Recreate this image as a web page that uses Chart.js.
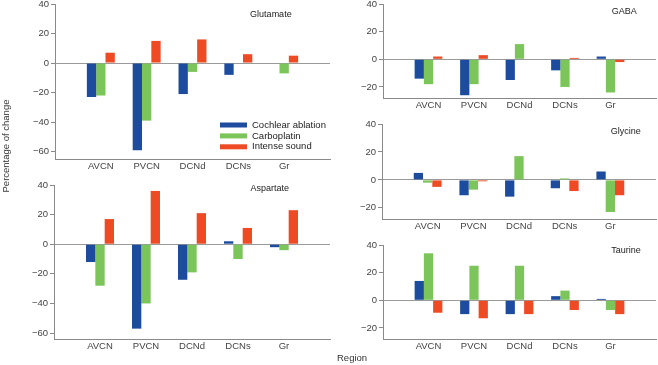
<!DOCTYPE html>
<html>
<head>
<meta charset="utf-8">
<script src="https://cdn.jsdelivr.net/npm/chart.js@4.4.1/dist/chart.umd.min.js"></script>
<style>
body { margin: 0; background: #fff; }
#wrap { position: relative; width: 658px; height: 365px; overflow: hidden; font-family: "Liberation Sans", Arial, sans-serif; }
canvas { position: absolute; }
.lbl { position: absolute; font-size: 9.5px; line-height: 12px; color: #333; white-space: nowrap; }
#ylab { left: -94px; top: 140px; width: 200px; text-align: center; transform: rotate(-90deg); }
</style>
</head>
<body>
<div id="wrap">
  <canvas id="glu" width="340" height="181" style="left:0;top:-6px"></canvas>
  <canvas id="asp" width="340" height="180" style="left:0;top:175px"></canvas>
  <canvas id="gaba" width="318" height="120" style="left:340px;top:-6px"></canvas>
  <canvas id="gly" width="318" height="121" style="left:340px;top:114px"></canvas>
  <canvas id="tau" width="318" height="120" style="left:340px;top:235px"></canvas>
  <div class="lbl" id="ylab">Percentage of change</div>
  <div class="lbl" style="left:337px;top:352px">Region</div>
</div>
<script>
const regions = ['AVCN', 'PVCN', 'DCNd', 'DCNs', 'Gr'];
const seriesNames = ['Cochlear ablation', 'Carboplatin', 'Intense sound'];
const seriesColors = ['#1d4c9e', '#7cc55a', '#ee4b24'];

const glutamateAblation = [-23, -59, -21, -8, null];
const glutamateCarbo = [-22, -39, -6, null, -7];
const glutamateSound = [7, 15, 16, 6, 5];

const aspartateAblation = [-12, -57, -24, 2, -2];
const aspartateCarbo = [-28, -40, -19, -10, -4];
const aspartateSound = [17, 36, 21, 11, 23];

const gabaAblation = [-14, -26, -15, -8, 2];
const gabaCarbo = [-18, -18, 11, -20, -24];
const gabaSound = [2, 3, null, 1, -2];

const glycineAblation = [5, -11, -12, -6, 6];
const glycineCarbo = [-2, -7, 17, 1, -23];
const glycineSound = [-5, -1, null, -8, -11];

const taurineAblation = [14, -10, -10, 3, 1];
const taurineCarbo = [34, 25, 25, 7, -7];
const taurineSound = [-9, -13, -10, -7, -10];

const yTicks = [40, 20, 0, -20, -40, -60];

// one empty slot on each side of the regions
const xLabels = [''].concat(regions, ['']);
const pad = arr => [null].concat(arr, [null]);

const tickFont = { family: '"Liberation Sans", Arial, sans-serif', size: 9.5 };

function makePanel(id, title, values, yMin, axisW, padRight, titleX, titleDy, withLegend) {
    const textPlugin = {
        id: 'panelText',
        afterDraw(chart) {
            const ctx = chart.ctx;
            const a = chart.chartArea;
            ctx.save();
            ctx.font = '9px "Liberation Sans", Arial, sans-serif';
            ctx.fillStyle = '#222';
            ctx.textAlign = 'center';
            ctx.textBaseline = 'middle';
            ctx.fillText(title, a.left + titleX * (a.right - a.left), a.top + titleDy);
            if (withLegend) {
                ctx.font = '9.5px "Liberation Sans", Arial, sans-serif';
                ctx.textAlign = 'left';
                chart.data.datasets.forEach((ds, i) => {
                    const lx = a.left + 165;
                    const ly = a.top + 121 + i * 10.9;
                    ctx.fillStyle = ds.backgroundColor;
                    ctx.fillRect(lx, ly - 2.5, 27, 5);
                    ctx.fillStyle = '#222';
                    ctx.fillText(ds.label, lx + 32, ly);
                });
            }
            ctx.restore();
        }
    };

    const data = {
        labels: xLabels,
        datasets: values.map((v, i) => ({
            label: seriesNames[i],
            data: pad(v),
            backgroundColor: seriesColors[i],
            borderWidth: 0,
            categoryPercentage: 0.61,
            barPercentage: 1.0
        }))
    };

    return new Chart(document.getElementById(id), {
        type: 'bar',
        data: data,
        options: {
            responsive: false,
            animation: false,
            devicePixelRatio: 1,
            layout: { padding: { top: 10, right: padRight, left: 0, bottom: 0 } },
            plugins: { legend: { display: false }, tooltip: { enabled: false } },
            scales: {
                x: {
                    offset: false,
                    grid: { display: false, drawTicks: false },
                    border: { display: true, color: '#8a8a8a', width: 1 },
                    ticks: { font: tickFont, color: '#444', padding: 2, maxRotation: 0, autoSkip: false },
                    afterFit: s => { s.height = 16; }
                },
                y: {
                    min: yMin,
                    max: 40,
                    ticks: {
                        stepSize: 20,
                        font: tickFont,
                        color: '#444',
                        padding: 2,
                        callback: v => v < 0 ? '\u2212' + Math.abs(v) : '' + v
                    },
                    afterBuildTicks: s => { s.ticks = yTicks.filter(t => t >= yMin).map(t => ({ value: t })); },
                    grid: {
                        drawOnChartArea: true,
                        drawTicks: true,
                        tickLength: 4,
                        color: c => (c.tick && c.tick.value === 0) ? '#9a9a9a' : 'rgba(0,0,0,0)',
                        tickColor: '#8a8a8a'
                    },
                    border: { display: true, color: '#8a8a8a', width: 1 },
                    afterFit: s => { s.width = axisW; }
                }
            }
        },
        plugins: [textPlugin]
    });
}

makePanel('glu', 'Glutamate', [glutamateAblation, glutamateCarbo, glutamateSound], -65, 55, 10, 0.785, 11, true);
makePanel('asp', 'Aspartate', [aspartateAblation, aspartateCarbo, aspartateSound], -64, 54, 10, 0.782, 4, false);
makePanel('gaba', 'GABA', [gabaAblation, gabaCarbo, gabaSound], -28, 43, 0, 0.884, 8, false);
makePanel('gly', 'Glycine', [glycineAblation, glycineCarbo, glycineSound], -28, 42, 0, 0.89, 8, false);
makePanel('tau', 'Taurine', [taurineAblation, taurineCarbo, taurineSound], -28, 43, 0, 0.89, 6, false);
</script>
</body>
</html>
